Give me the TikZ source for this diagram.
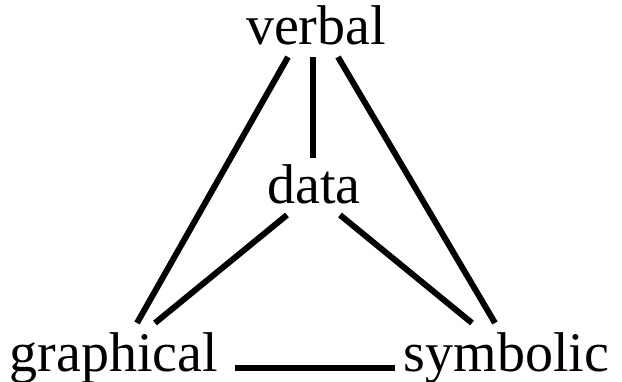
\documentclass[tikz,border=0pt]{standalone}
\usepackage{fontspec}
\setmainfont{Liberation Serif}
\usetikzlibrary{calc}
\begin{document}
\begin{tikzpicture}[x=1pt,y=1pt,
  lbl/.style={anchor=base,inner sep=0pt,font=\fontsize{56}{60}\selectfont},
  conn/.style={line width=6pt,line cap=butt}]
\useasboundingbox (0,0) rectangle (622,381);
\node[lbl] (verbal) at (316,336) {verbal};
\node[lbl] (data) at (314,178) {data};
\node[lbl] (graphical) at (114,10) {graphical};
\node[lbl] (symbolic) at (506.5,10) {symbolic};
\draw[conn] ($(verbal.base)+(-28,-12)$) -- ($(graphical.base)+(23,48)$);
\draw[conn] ($(verbal.base)+(22,-12)$) -- ($(symbolic.base)+(-11.5,48)$);
\draw[conn] ($(verbal.base)+(-3,-12)$) -- ($(data.base)+(-1,45)$);
\draw[conn] ($(data.base)+(-27,-12)$) -- ($(graphical.base)+(41,48)$);
\draw[conn] ($(data.base)+(26,-12)$) -- ($(symbolic.base)+(-34.5,48)$);
\draw[conn] ($(graphical.base)+(121,3)$) -- ($(symbolic.base)+(-111.5,3)$);
\end{tikzpicture}
\end{document}
